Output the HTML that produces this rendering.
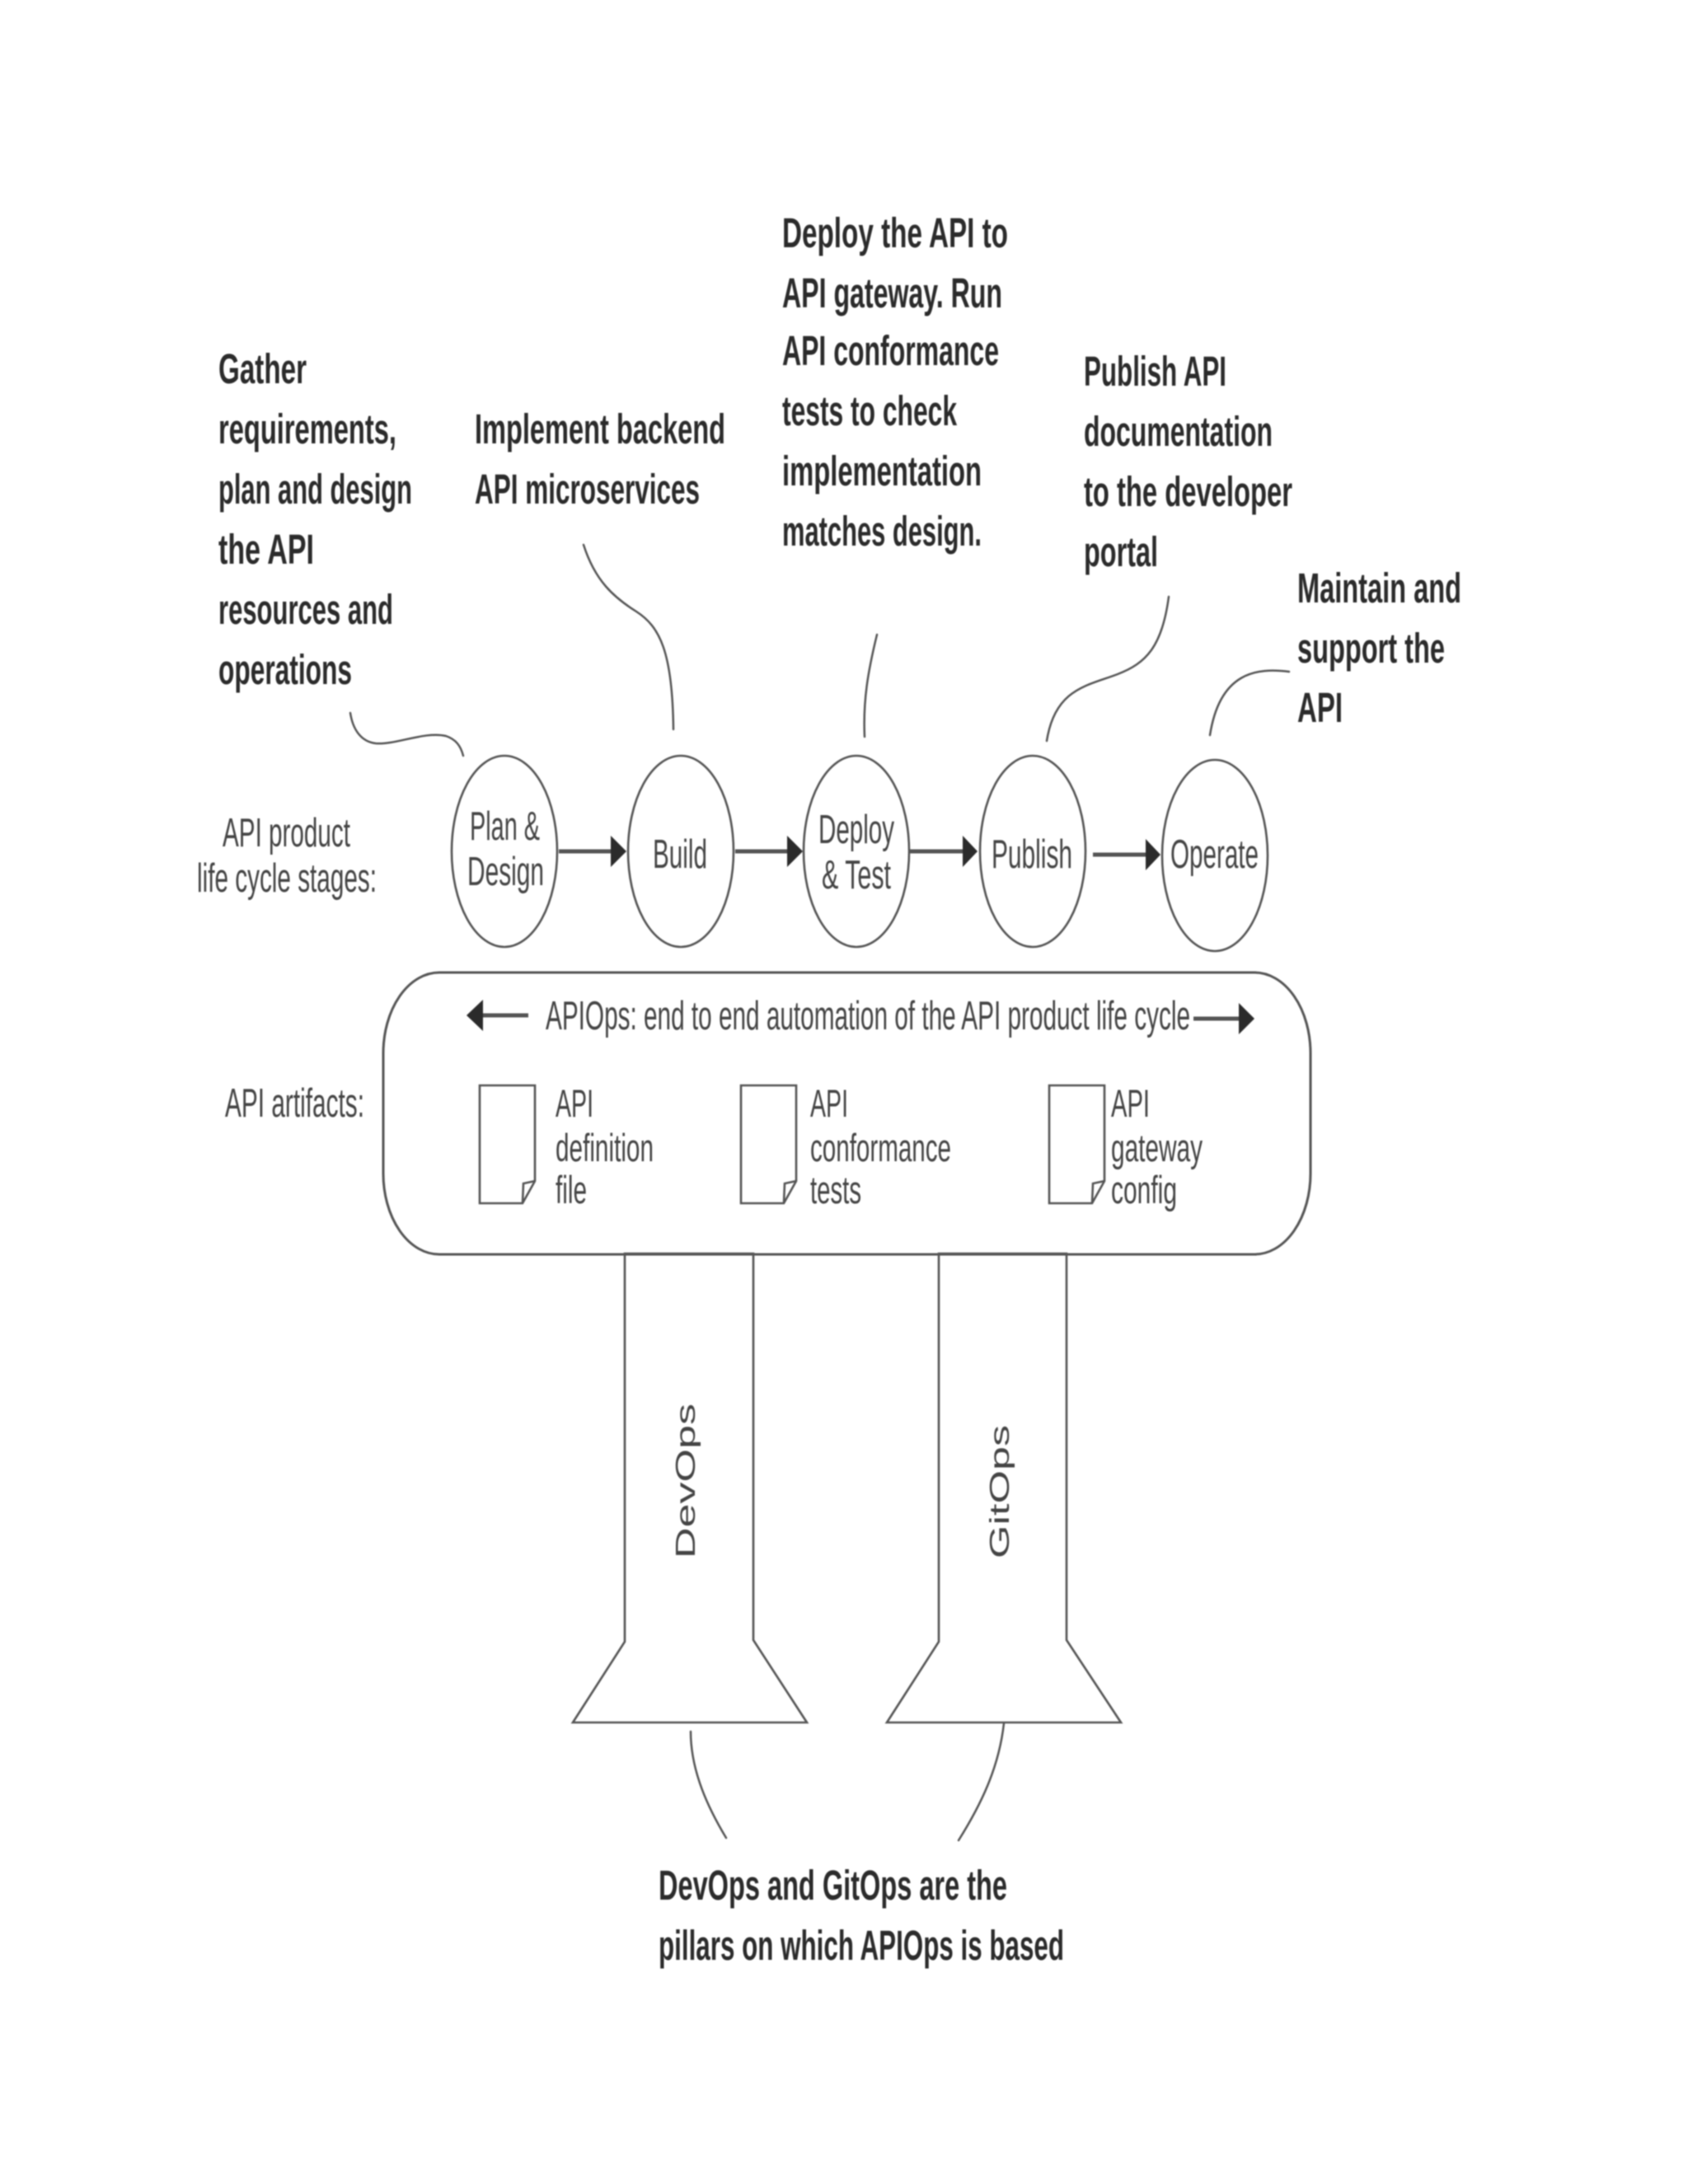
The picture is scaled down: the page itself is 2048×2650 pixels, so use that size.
<!DOCTYPE html>
<html>
<head>
<meta charset="utf-8">
<style>
html,body{margin:0;padding:0;background:#fff;}
svg{display:block;}
.b{font-family:"Liberation Sans",sans-serif;font-weight:bold;font-size:51px;fill:#2b2b2b;}
.r{font-family:"Liberation Sans",sans-serif;font-size:49px;fill:#444;}
.s{fill:none;stroke:#555;stroke-width:2.6;}
.c{fill:none;stroke:#555;stroke-width:2.5;stroke-linecap:round;}
.l{fill:none;stroke:#555;stroke-width:5;}
.h{fill:#2b2b2b;stroke:none;}
</style>
</head>
<body>
<svg width="2048" height="2650" viewBox="0 0 2048 2650" xmlns="http://www.w3.org/2000/svg" style="filter:blur(.8px)">
<rect width="2048" height="2650" fill="#fff"/>

<!-- callout text -->
<g class="b">
<text x="265" y="465" textLength="107" lengthAdjust="spacingAndGlyphs">Gather</text>
<text x="265" y="538" textLength="216" lengthAdjust="spacingAndGlyphs">requirements,</text>
<text x="265" y="611" textLength="235" lengthAdjust="spacingAndGlyphs">plan and design</text>
<text x="265" y="684" textLength="116" lengthAdjust="spacingAndGlyphs">the API</text>
<text x="265" y="757" textLength="212" lengthAdjust="spacingAndGlyphs">resources and</text>
<text x="265" y="830" textLength="162" lengthAdjust="spacingAndGlyphs">operations</text>

<text x="576" y="538" textLength="304" lengthAdjust="spacingAndGlyphs">Implement backend</text>
<text x="576" y="611" textLength="273" lengthAdjust="spacingAndGlyphs">API microservices</text>

<text x="949" y="300" textLength="274" lengthAdjust="spacingAndGlyphs">Deploy the API to</text>
<text x="949" y="373" textLength="267" lengthAdjust="spacingAndGlyphs">API gateway. Run</text>
<text x="949" y="443" textLength="263" lengthAdjust="spacingAndGlyphs">API conformance</text>
<text x="949" y="516" textLength="212" lengthAdjust="spacingAndGlyphs">tests to check</text>
<text x="949" y="589" textLength="242" lengthAdjust="spacingAndGlyphs">implementation</text>
<text x="949" y="662" textLength="242" lengthAdjust="spacingAndGlyphs">matches design.</text>

<text x="1315" y="468" textLength="173" lengthAdjust="spacingAndGlyphs">Publish API</text>
<text x="1315" y="541" textLength="229" lengthAdjust="spacingAndGlyphs">documentation</text>
<text x="1315" y="614" textLength="253" lengthAdjust="spacingAndGlyphs">to the developer</text>
<text x="1315" y="687" textLength="90" lengthAdjust="spacingAndGlyphs">portal</text>

<text x="1574" y="731" textLength="199" lengthAdjust="spacingAndGlyphs">Maintain and</text>
<text x="1574" y="804" textLength="179" lengthAdjust="spacingAndGlyphs">support the</text>
<text x="1574" y="876" textLength="55" lengthAdjust="spacingAndGlyphs">API</text>

<text x="799" y="2305" textLength="423" lengthAdjust="spacingAndGlyphs">DevOps and GitOps are the</text>
<text x="799" y="2378" textLength="492" lengthAdjust="spacingAndGlyphs">pillars on which APIOps is based</text>
</g>

<!-- callout curves -->
<path class="c" d="M425,865 C428,885 438,900 456,902 C480,904 515,887 541,893 C553,897 559,905 562,917"/>
<path class="c" d="M708,661 C722,705 745,725 772,742 C800,760 816,790 817,885"/>
<path class="c" d="M1064,770 C1053,815 1047,850 1049,894"/>
<path class="c" d="M1418,724 C1410,785 1390,805 1356,818 C1320,832 1280,835 1270,899"/>
<path class="c" d="M1564,815 C1525,810 1480,815 1468,892"/>
<path class="c" d="M838,2101 C838,2150 860,2195 881,2230"/>
<path class="c" d="M1218,2091 C1212,2145 1190,2190 1163,2233"/>

<!-- stage labels -->
<g class="r">
<text x="270" y="1027" textLength="155" lengthAdjust="spacingAndGlyphs">API product</text>
<text x="239" y="1082" textLength="218" lengthAdjust="spacingAndGlyphs">life cycle stages:</text>
<text x="273" y="1355" textLength="169" lengthAdjust="spacingAndGlyphs">API artifacts:</text>
</g>

<!-- stage ellipses -->
<ellipse class="s" cx="612" cy="1033" rx="64" ry="116"/>
<ellipse class="s" cx="826" cy="1033" rx="64" ry="116"/>
<ellipse class="s" cx="1039" cy="1033" rx="64" ry="116"/>
<ellipse class="s" cx="1253" cy="1033" rx="64" ry="116"/>
<ellipse class="s" cx="1474" cy="1038" rx="64" ry="116"/>

<g class="r">
<text x="570" y="1019" textLength="85" lengthAdjust="spacingAndGlyphs">Plan &amp;</text>
<text x="567" y="1074" textLength="93" lengthAdjust="spacingAndGlyphs">Design</text>
<text x="792" y="1053" textLength="66" lengthAdjust="spacingAndGlyphs">Build</text>
<text x="993" y="1023" textLength="92" lengthAdjust="spacingAndGlyphs">Deploy</text>
<text x="997" y="1078" textLength="84" lengthAdjust="spacingAndGlyphs">&amp; Test</text>
<text x="1203" y="1053" textLength="98" lengthAdjust="spacingAndGlyphs">Publish</text>
<text x="1420" y="1053" textLength="107" lengthAdjust="spacingAndGlyphs">Operate</text>
</g>

<!-- stage arrows -->
<path class="l" d="M678,1033 H745"/><path class="h" d="M741,1014 L760,1033 L741,1052 Z"/>
<path class="l" d="M892,1033 H958"/><path class="h" d="M955,1014 L974,1033 L955,1052 Z"/>
<path class="l" d="M1104,1033 H1171"/><path class="h" d="M1168,1014 L1186,1033 L1168,1052 Z"/>
<path class="l" d="M1326,1037 H1393"/><path class="h" d="M1390,1018 L1408,1037 L1390,1056 Z"/>

<!-- APIOps box -->
<rect x="465" y="1180" width="1125" height="342" rx="68" ry="98" fill="none" stroke="#555" stroke-width="3"/>
<path class="l" d="M583,1232 H641"/><path class="h" d="M586,1213 L566,1232 L586,1251 Z"/>
<path class="l" d="M1448,1236 H1506"/><path class="h" d="M1503,1217 L1522,1236 L1503,1255 Z"/>
<text class="r" x="662" y="1249" textLength="782" lengthAdjust="spacingAndGlyphs">APIOps: end to end automation of the API product life cycle</text>

<!-- docs -->
<g class="s">
<path d="M582,1317 H649 V1433 L634,1460 H582 Z"/><path d="M649,1433 L635,1436 L634,1460"/>
<path d="M899,1317 H966 V1433 L951,1460 H899 Z"/><path d="M966,1433 L952,1436 L951,1460"/>
<path d="M1273,1317 H1340 V1433 L1325,1460 H1273 Z"/><path d="M1340,1433 L1326,1436 L1325,1460"/>
</g>
<g class="r" style="font-size:47px">
<text x="674" y="1355" textLength="46" lengthAdjust="spacingAndGlyphs">API</text>
<text x="674" y="1409" textLength="119" lengthAdjust="spacingAndGlyphs">definition</text>
<text x="674" y="1460" textLength="38" lengthAdjust="spacingAndGlyphs">file</text>
<text x="983" y="1355" textLength="46" lengthAdjust="spacingAndGlyphs">API</text>
<text x="983" y="1409" textLength="171" lengthAdjust="spacingAndGlyphs">conformance</text>
<text x="983" y="1460" textLength="62" lengthAdjust="spacingAndGlyphs">tests</text>
<text x="1348" y="1355" textLength="47" lengthAdjust="spacingAndGlyphs">API</text>
<text x="1348" y="1409" textLength="111" lengthAdjust="spacingAndGlyphs">gateway</text>
<text x="1348" y="1460" textLength="80" lengthAdjust="spacingAndGlyphs">config</text>
</g>

<!-- pillars -->
<path class="s" d="M758,1521 H914 V1990 L979,2090 H695 L758,1992 Z"/>
<path class="s" d="M1139,1521 H1294 V1990 L1360,2090 H1076 L1139,1992 Z"/>
<text class="r" style="font-size:33px" transform="translate(843,1891) rotate(-90)" textLength="188" lengthAdjust="spacingAndGlyphs">DevOps</text>
<text class="r" style="font-size:33px" transform="translate(1224,1891) rotate(-90)" textLength="162" lengthAdjust="spacingAndGlyphs">GitOps</text>
</svg>
</body>
</html>
